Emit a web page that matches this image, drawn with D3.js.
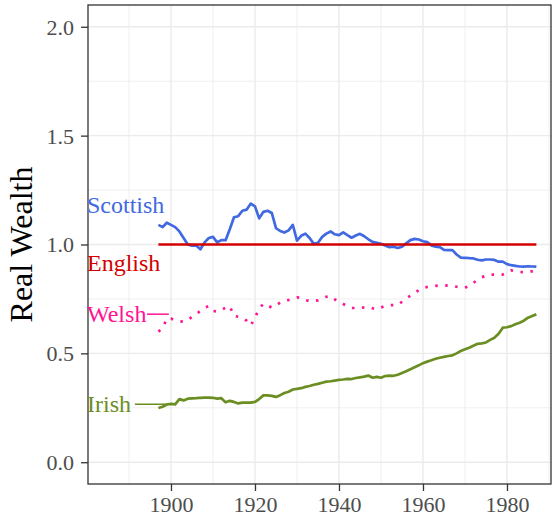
<!DOCTYPE html>
<html>
<head>
<meta charset="utf-8">
<script src="https://cdn.jsdelivr.net/npm/d3@7"></script>
<style>
body { margin: 0; background: #fff; }
svg { display: block; font-family: "Liberation Serif", "DejaVu Serif", serif; }
</style>
</head>
<body>
<svg id="chart" width="552" height="523"></svg>
<script>
// one value per year, 1897..1987
const years = d3.range(1897, 1988);

const scottish = [
    1.090, 1.080, 1.100, 1.090, 1.080, 1.060, 1.030, 1.000, 0.995, 0.995,
    0.978, 1.010, 1.030, 1.035, 1.010, 1.020, 1.020, 1.070, 1.125, 1.130,
    1.155, 1.160, 1.188, 1.175, 1.120, 1.150, 1.155, 1.145, 1.075, 1.062,
    1.055, 1.065, 1.090, 1.018, 1.040, 1.050, 1.030, 1.003, 1.008, 1.035,
    1.050, 1.060, 1.047, 1.043, 1.056, 1.043, 1.031, 1.041, 1.049, 1.038,
    1.024, 1.012, 1.008, 1.003, 0.995, 0.988, 0.990, 0.984, 0.990, 1.005,
    1.020, 1.026, 1.023, 1.015, 1.011, 0.996, 0.990, 0.988, 0.975, 0.974,
    0.974, 0.954, 0.940, 0.939, 0.937, 0.936, 0.930, 0.927, 0.931, 0.931,
    0.929, 0.921, 0.921, 0.910, 0.905, 0.902, 0.899, 0.898, 0.900, 0.899,
    0.898
];

const english = [
    1.0, 1.0, 1.0, 1.0, 1.0, 1.0, 1.0, 1.0, 1.0, 1.0,
    1.0, 1.0, 1.0, 1.0, 1.0, 1.0, 1.0, 1.0, 1.0, 1.0,
    1.0, 1.0, 1.0, 1.0, 1.0, 1.0, 1.0, 1.0, 1.0, 1.0,
    1.0, 1.0, 1.0, 1.0, 1.0, 1.0, 1.0, 1.0, 1.0, 1.0,
    1.0, 1.0, 1.0, 1.0, 1.0, 1.0, 1.0, 1.0, 1.0, 1.0,
    1.0, 1.0, 1.0, 1.0, 1.0, 1.0, 1.0, 1.0, 1.0, 1.0,
    1.0, 1.0, 1.0, 1.0, 1.0, 1.0, 1.0, 1.0, 1.0, 1.0,
    1.0, 1.0, 1.0, 1.0, 1.0, 1.0, 1.0, 1.0, 1.0, 1.0,
    1.0, 1.0, 1.0, 1.0, 1.0, 1.0, 1.0, 1.0, 1.0, 1.0,
    1.0
];

const welsh = [
    0.600, 0.615, 0.660, 0.660, 0.652, 0.648, 0.645, 0.655, 0.667, 0.680,
    0.695, 0.710, 0.717, 0.695, 0.692, 0.699, 0.710, 0.717, 0.672, 0.668,
    0.664, 0.650, 0.628, 0.665, 0.705, 0.728, 0.720, 0.710, 0.720, 0.733,
    0.740, 0.745, 0.750, 0.757, 0.755, 0.745, 0.740, 0.742, 0.743, 0.750,
    0.760, 0.763, 0.748, 0.737, 0.727, 0.717, 0.710, 0.706, 0.708, 0.711,
    0.713, 0.707, 0.702, 0.710, 0.718, 0.721, 0.722, 0.722, 0.737, 0.752,
    0.765, 0.778, 0.790, 0.801, 0.805, 0.808, 0.810, 0.812, 0.813, 0.811,
    0.809, 0.806, 0.803, 0.801, 0.812, 0.824, 0.837, 0.850, 0.856, 0.862,
    0.862, 0.862, 0.862, 0.870, 0.881, 0.877, 0.874, 0.873, 0.875, 0.877,
    0.877
];

const irish = [
    0.249, 0.255, 0.265, 0.268, 0.266, 0.290, 0.284, 0.292, 0.293, 0.294,
    0.296, 0.297, 0.297, 0.296, 0.292, 0.294, 0.275, 0.282, 0.277, 0.270,
    0.274, 0.274, 0.274, 0.277, 0.290, 0.307, 0.307, 0.305, 0.300, 0.308,
    0.318, 0.324, 0.334, 0.337, 0.340, 0.346, 0.350, 0.356, 0.360, 0.365,
    0.370, 0.372, 0.375, 0.378, 0.380, 0.383, 0.382, 0.387, 0.390, 0.393,
    0.398, 0.388, 0.392, 0.388, 0.396, 0.398, 0.397, 0.402, 0.410, 0.418,
    0.427, 0.436, 0.445, 0.455, 0.462, 0.468, 0.475, 0.480, 0.484, 0.488,
    0.491, 0.500, 0.511, 0.519, 0.526, 0.535, 0.544, 0.546, 0.550, 0.562,
    0.572, 0.590, 0.618, 0.620, 0.625, 0.634, 0.641, 0.650, 0.664, 0.672,
    0.679
];

const seriesNames = ["Scottish", "English", "Welsh", "Irish"];
const seriesColors = ["#4169E1", "#D40000", "#FF1493", "#6B8E23"];
const seriesDash = [null, null, "2.5,7.5", null];

// direct labels: year, value of the label; leader segment from/to year
const labelYear = 1880;
const labelValues = [1.18, 0.915, 0.68, 0.266];
const leaderFrom = [null, null, 1894.3, 1891.4];
const leaderTo = [null, null, 1899.5, 1899.8];

const xMajorTicks = [1900, 1920, 1940, 1960, 1980];
const xMinorTicks = [1890, 1910, 1930, 1950, 1970, 1990];
const yMajorTicks = [0, 0.5, 1, 1.5, 2];
const yMinorTicks = [0.25, 0.75, 1.25, 1.75];

const panel = { left: 88, right: 551, top: 5, bottom: 484 };

const x = d3.scaleLinear()
    .domain([1880.24, 1990.48])
    .range([panel.left, panel.right])
    ;
const y = d3.scaleLinear()
    .domain([-0.1, 2.1])
    .range([panel.bottom, panel.top])
    ;

const svg = d3.select("#chart");

const grid = svg.append("g");
grid.selectAll("line.xminor").data(xMinorTicks)
    .join("line")
    .attr("x1", d => x(d)).attr("x2", d => x(d))
    .attr("y1", panel.top).attr("y2", panel.bottom)
    .attr("stroke", "#EBEBEB").attr("stroke-width", 0.8)
    ;
grid.selectAll("line.yminor").data(yMinorTicks)
    .join("line")
    .attr("x1", panel.left).attr("x2", panel.right)
    .attr("y1", d => y(d)).attr("y2", d => y(d))
    .attr("stroke", "#EBEBEB").attr("stroke-width", 0.8)
    ;
grid.selectAll("line.xmajor").data(xMajorTicks)
    .join("line")
    .attr("x1", d => x(d)).attr("x2", d => x(d))
    .attr("y1", panel.top).attr("y2", panel.bottom)
    .attr("stroke", "#EBEBEB").attr("stroke-width", 1.4)
    ;
grid.selectAll("line.ymajor").data(yMajorTicks)
    .join("line")
    .attr("x1", panel.left).attr("x2", panel.right)
    .attr("y1", d => y(d)).attr("y2", d => y(d))
    .attr("stroke", "#EBEBEB").attr("stroke-width", 1.4)
    ;

// series
const series = seriesNames.map((name, i) => ({
    name,
    color: seriesColors[i],
    dash: seriesDash[i],
    values: [scottish, english, welsh, irish][i]
}));

const line = d3.line()
    .x((d, i) => x(years[i]))
    .y(d => y(d))
    ;

svg.append("g")
    .selectAll("path")
    .data(series)
    .join("path")
    .attr("d", d => line(d.values))
    .attr("fill", "none")
    .attr("stroke", d => d.color)
    .attr("stroke-width", 2.7)
    .attr("stroke-dasharray", d => d.dash)
    .attr("stroke-linejoin", "round")
    ;

// axes
const xAxis = d3.axisBottom(x)
    .tickValues(xMajorTicks)
    .tickFormat(d3.format("d"))
    .tickSize(7)
    .tickPadding(5)
    ;
const yAxis = d3.axisLeft(y)
    .tickValues(yMajorTicks)
    .tickFormat(d3.format(".1f"))
    .tickSize(7)
    .tickPadding(7)
    ;

const gx = svg.append("g")
    .attr("transform", `translate(0,${panel.bottom})`)
    .call(xAxis)
    ;
const gy = svg.append("g")
    .attr("transform", `translate(${panel.left},0)`)
    .call(yAxis)
    ;
[gx, gy].forEach(g => {
    g.select(".domain").remove();
    g.selectAll(".tick line").attr("stroke", "#333333").attr("stroke-width", 1.3);
    g.selectAll(".tick text")
        .attr("fill", "#4D4D4D")
        .style("font-family", "'Liberation Serif', serif")
        .style("font-size", "22px")
        ;
});
gy.selectAll(".tick text").attr("dy", "0.34em");

// panel border
svg.append("rect")
    .attr("x", panel.left).attr("y", panel.top)
    .attr("width", panel.right - panel.left)
    .attr("height", panel.bottom - panel.top)
    .attr("fill", "none")
    .attr("stroke", "#333333")
    .attr("stroke-width", 1.3)
    ;

// direct labels
const labels = svg.append("g");
series.forEach((s, i) => {
    if (leaderFrom[i] !== null) {
        labels.append("line")
            .attr("x1", x(leaderFrom[i])).attr("x2", x(leaderTo[i]))
            .attr("y1", y(labelValues[i])).attr("y2", y(labelValues[i]))
            .attr("stroke", s.color)
            .attr("stroke-width", 1.5)
            ;
    }
    labels.append("text")
        .attr("x", x(labelYear))
        .attr("y", y(labelValues[i]) + 8)
        .attr("fill", s.color)
        .style("font-size", "24px")
        .text(s.name)
        ;
});

// y axis title
svg.append("text")
    .attr("transform", `translate(32,${(panel.top + panel.bottom) / 2}) rotate(-90)`)
    .attr("text-anchor", "middle")
    .attr("fill", "#000")
    .style("font-size", "32px")
    .text("Real Wealth")
    ;
</script>
</body>
</html>
